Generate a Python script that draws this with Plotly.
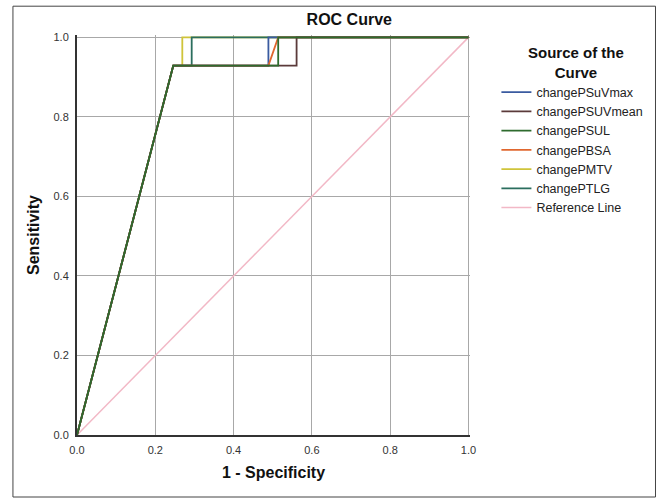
import plotly.graph_objects as go

# Data (false positive rate vs sensitivity)
series_names = ["changePSuVmax", "changePSUVmean", "changePSUL", "changePBSA", "changePMTV", "changePTLG"]
psuvmax_x = [0.0, 0.246, 0.489, 0.489, 1.0]
psuvmax_y = [0.0, 0.929, 0.929, 1.0, 1.0]
psuvmean_x = [0.0, 0.246, 0.561, 0.561, 1.0]
psuvmean_y = [0.0, 0.929, 0.929, 1.0, 1.0]
psul_x = [0.0, 0.246, 0.514, 0.514, 1.0]
psul_y = [0.0, 0.929, 0.929, 1.0, 1.0]
pbsa_x = [0.0, 0.246, 0.489, 0.514, 1.0]
pbsa_y = [0.0, 0.929, 0.929, 1.0, 1.0]
pmtv_x = [0.0, 0.246, 0.269, 0.269, 1.0]
pmtv_y = [0.0, 0.929, 0.929, 1.0, 1.0]
ptlg_x = [0.0, 0.246, 0.293, 0.293, 1.0]
ptlg_y = [0.0, 0.929, 0.929, 1.0, 1.0]
ref_x = [0.0, 1.0]
ref_y = [0.0, 1.0]
tick_vals = [0.0, 0.2, 0.4, 0.6, 0.8, 1.0]
tick_text = ["0.0", "0.2", "0.4", "0.6", "0.8", "1.0"]

colors = {
    "changePSuVmax": "#3a5ba0",
    "changePSUVmean": "#5b3a3a",
    "changePSUL": "#2e6b2e",
    "changePBSA": "#e0672f",
    "changePMTV": "#cfc43a",
    "changePTLG": "#2b6e5e",
    "Reference Line": "#f2b8c6",
}

data = {
    "changePSuVmax": (psuvmax_x, psuvmax_y),
    "changePSUVmean": (psuvmean_x, psuvmean_y),
    "changePSUL": (psul_x, psul_y),
    "changePBSA": (pbsa_x, pbsa_y),
    "changePMTV": (pmtv_x, pmtv_y),
    "changePTLG": (ptlg_x, ptlg_y),
}

fig = go.Figure()
fig.add_trace(go.Scatter(x=ref_x, y=ref_y, mode="lines", name="Reference Line",
                         line=dict(color=colors["Reference Line"], width=1.5),
                         legendrank=7))
draw_order = ["changePMTV", "changePTLG", "changePSuVmax", "changePBSA", "changePSUVmean", "changePSUL"]
for nm in draw_order:
    xs, ys = data[nm]
    fig.add_trace(go.Scatter(x=xs, y=ys, mode="lines", name=nm,
                             line=dict(color=colors[nm], width=1.8),
                             legendrank=series_names.index(nm) + 1))

font_family = "Liberation Sans, Arial, sans-serif"
fig.update_layout(
    width=659, height=500, autosize=False,
    margin=dict(l=77, r=188, t=35, b=65),
    paper_bgcolor="white", plot_bgcolor="white",
    font=dict(family=font_family, color="#222"),
    title=dict(text="<b>ROC Curve</b>", x=0.53, xanchor="center", y=0.962, yanchor="middle",
               font=dict(size=16, color="#111")),
    xaxis=dict(range=[0, 1.004], tickvals=tick_vals, ticktext=tick_text,
               showgrid=True, gridcolor="#a8a8a8", gridwidth=1,
               showline=True, linecolor="#333", linewidth=2,
               ticks="", zeroline=False, ticklabelstandoff=4,
               tickfont=dict(size=11, color="#333"),
               title=dict(text="<b>1 - Specificity</b>", font=dict(size=16, color="#111"), standoff=12)),
    yaxis=dict(range=[0, 1.006], tickvals=tick_vals, ticktext=tick_text,
               showgrid=True, gridcolor="#a8a8a8", gridwidth=1,
               showline=True, linecolor="#333", linewidth=2,
               ticks="", zeroline=False, ticklabelstandoff=4,
               tickfont=dict(size=11, color="#333"),
               title=dict(text="<b>Sensitivity</b>", font=dict(size=16, color="#111"), standoff=10)),
    legend=dict(
        x=1.0645, xanchor="left", y=0.894, yanchor="top",
        font=dict(size=12.5, color="#222"),
        tracegroupgap=0, itemwidth=30, bgcolor="rgba(0,0,0,0)",
    ),
    annotations=[dict(text="<b>Source of the<br>Curve</b>", xref="paper", yref="paper",
                      x=1.27, y=0.9325, xanchor="center", yanchor="middle",
                      showarrow=False, align="center",
                      font=dict(size=15, color="#111"))],
    shapes=[dict(type="rect", xref="paper", yref="paper",
                 x0=-0.163, x1=1.472, y0=-0.155, y1=1.072,
                 line=dict(color="#444", width=1), layer="below")],
)

fig.write_html(
    "out.html",
    config={"responsive": False, "displayModeBar": False},
    post_script="document.body.style.margin='0';document.body.style.overflow='hidden';"
                "document.documentElement.style.overflow='hidden';",
)
